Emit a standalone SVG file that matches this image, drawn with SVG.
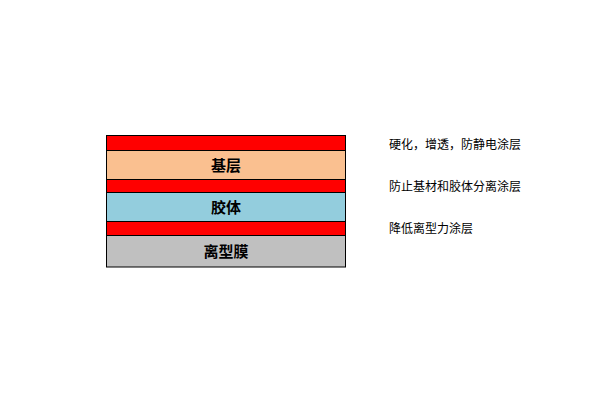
<svg xmlns="http://www.w3.org/2000/svg" width="600" height="400" viewBox="0 0 600 400">
<style>
.l{stroke:#000;stroke-width:1}
.t{font-family:"Noto Sans CJK SC",sans-serif;font-size:15px;font-weight:bold;text-anchor:middle;fill:#000}
.n{font-family:"Noto Sans CJK SC",sans-serif;font-size:12px;fill:#000}
</style>
<rect width="600" height="400" fill="#fff"/>
<g id="coat1"><rect class="l" x="106.5" y="135.5" width="239" height="15" fill="#ff0000"/></g>
<g id="base"><rect class="l" x="106.5" y="150.5" width="239" height="29" fill="#fac090"/><text class="t" x="226" y="170.5">基层</text></g>
<g id="coat2"><rect class="l" x="106.5" y="179.5" width="239" height="13" fill="#ff0000"/></g>
<g id="glue"><rect class="l" x="106.5" y="192.5" width="239" height="29" fill="#93cddd"/><text class="t" x="226" y="212.5">胶体</text></g>
<g id="coat3"><rect class="l" x="106.5" y="221.5" width="239" height="14" fill="#ff0000"/></g>
<g id="film"><rect class="l" x="106.5" y="235.5" width="239" height="31.5" fill="#c0c0c0"/><text class="t" x="226" y="257">离型膜</text></g>
<g id="labels">
<text class="n" x="389" y="148.5">硬化，增透，防静电涂层</text>
<text class="n" x="389" y="191">防止基材和胶体分离涂层</text>
<text class="n" x="389" y="233">降低离型力涂层</text>
</g>
</svg>
